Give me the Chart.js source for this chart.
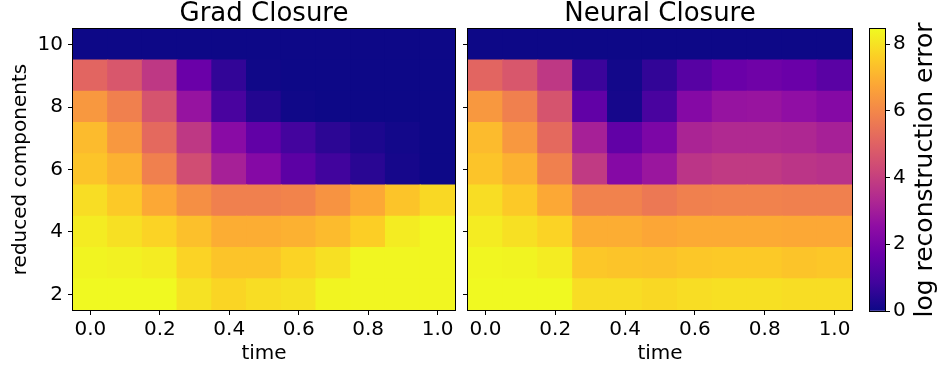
<!DOCTYPE html>
<html>
<head>
<meta charset="utf-8">
<script src="https://cdn.jsdelivr.net/npm/chart.js@4.4.1/dist/chart.umd.min.js"></script>
<style>
  body { margin: 0; background: #fff; }
  #wrap { position: relative; width: 938px; height: 371px; }
  #wrap canvas { position: absolute; top: 0; }
</style>
</head>
<body>
<div id="wrap">
  <canvas id="grad-chart" width="462" height="371" style="left:0"></canvas>
  <canvas id="neural-chart" width="395" height="371" style="left:462px"></canvas>
  <canvas id="cbar-chart" width="76" height="371" style="left:862px"></canvas>
</div>
<script>
// time axis (columns) and reduced components (rows, bottom to top)
const times = ['0.0', '0.1', '0.2', '0.3', '0.4', '0.5', '0.6', '0.7', '0.8', '0.9', '1.0'];
const components = [2, 3, 4, 5, 6, 7, 8, 9, 10];
const componentTicks = [2, 4, 6, 8, 10];
const errorTicks = [0, 2, 4, 6, 8];
const errorMin = 0;
const errorMax = 8.45;

// log reconstruction error, one row per component count (2 .. 10)
const gradErr2  = [8.45, 8.45, 8.45, 8.0, 7.75, 7.9, 8.0, 8.35, 8.4, 8.4, 8.4];
const gradErr3  = [8.35, 8.3, 8.2, 7.7, 7.4, 7.4, 7.7, 7.95, 8.4, 8.4, 8.4];
const gradErr4  = [8.2, 7.95, 7.7, 7.3, 6.9, 6.9, 7.0, 7.2, 7.6, 8.2, 8.4];
const gradErr5  = [7.9, 7.5, 6.8, 6.2, 5.8, 5.8, 5.9, 6.3, 6.8, 7.4, 7.8];
const gradErr6  = [7.4, 7.0, 5.8, 4.4, 3.1, 2.3, 1.4, 0.85, 0.45, 0.15, 0.0];
const gradErr7  = [7.2, 6.4, 5.2, 3.8, 2.4, 1.5, 0.9, 0.5, 0.25, 0.1, 0.0];
const gradErr8  = [6.4, 5.8, 4.6, 2.7, 1.0, 0.35, 0.05, 0.0, 0.0, 0.0, 0.0];
const gradErr9  = [5.1, 4.7, 3.8, 1.7, 0.6, 0.05, 0.0, 0.0, 0.0, 0.0, 0.0];
const gradErr10 = [0, 0, 0, 0, 0, 0, 0, 0, 0, 0, 0];

const neuralErr2  = [8.45, 8.45, 8.45, 7.9, 7.9, 7.8, 7.9, 7.95, 7.95, 7.9, 7.9];
const neuralErr3  = [8.4, 8.35, 8.2, 7.45, 7.4, 7.35, 7.45, 7.5, 7.5, 7.4, 7.45];
const neuralErr4  = [8.2, 7.95, 7.7, 6.9, 6.9, 6.75, 6.85, 6.85, 6.85, 6.8, 6.8];
const neuralErr5  = [7.9, 7.5, 6.8, 5.85, 5.85, 5.6, 5.8, 5.85, 5.85, 5.8, 5.8];
const neuralErr6  = [7.4, 7.0, 5.8, 3.85, 2.3, 2.8, 3.7, 3.85, 3.85, 3.7, 3.6];
const neuralErr7  = [7.2, 6.4, 5.2, 3.1, 1.5, 2.1, 3.2, 3.35, 3.35, 3.3, 3.1];
const neuralErr8  = [6.4, 5.8, 4.6, 1.5, 0.15, 1.0, 2.3, 2.7, 2.75, 2.55, 2.3];
const neuralErr9  = [5.1, 4.7, 3.8, 0.75, 0.1, 0.6, 1.3, 1.7, 1.8, 1.7, 1.35];
const neuralErr10 = [0, 0, 0, 0, 0, 0, 0, 0, 0, 0, 0];

const gradRows = [gradErr2, gradErr3, gradErr4, gradErr5, gradErr6, gradErr7, gradErr8, gradErr9, gradErr10];
const neuralRows = [neuralErr2, neuralErr3, neuralErr4, neuralErr5, neuralErr6, neuralErr7, neuralErr8, neuralErr9, neuralErr10];

// matplotlib "plasma" colour stops
const plasmaStops = ['#0d0887', '#41049d', '#6a00a8', '#8f0da4', '#b12a90', '#cc4778',
                     '#e16462', '#f2844b', '#fca636', '#fcce25', '#f0f921'];

function hexToRgb(h) {
    return [parseInt(h.slice(1, 3), 16), parseInt(h.slice(3, 5), 16), parseInt(h.slice(5, 7), 16)];
}

function plasma(v) {
    let t = (v - errorMin) / (errorMax - errorMin);
    t = Math.max(0, Math.min(1, t));
    const pos = t * (plasmaStops.length - 1);
    const i = Math.min(Math.floor(pos), plasmaStops.length - 2);
    const f = pos - i;
    const a = hexToRgb(plasmaStops[i]);
    const b = hexToRgb(plasmaStops[i + 1]);
    const c = a.map((x, k) => Math.round(x + (b[k] - x) * f));
    return `rgb(${c[0]}, ${c[1]}, ${c[2]})`;
}

Chart.defaults.font.family = "'DejaVu Sans', sans-serif";
Chart.defaults.color = '#000';

// black frame around the plot area (matplotlib spines)
const framePlugin = {
    id: 'frame',
    afterDatasetsDraw(chart) {
        const a = chart.chartArea;
        const ctx = chart.ctx;
        ctx.save();
        ctx.strokeStyle = '#000';
        ctx.lineWidth = 1;
        ctx.strokeRect(Math.round(a.left) - 0.5, Math.round(a.top) - 0.5,
                       Math.round(a.right - a.left) + 1, Math.round(a.bottom - a.top) + 1);
        ctx.restore();
    }
};

/**
 * Heatmap drawn as floating bars: one dataset per component row
 */
function makeHeatmap(id, title, rows, showYLabels, yWidth, padRight) {
    const ctx = document.getElementById(id).getContext('2d');
    const datasets = rows.map((row, i) => ({
        data: times.map(() => [components[i] - 0.5, components[i] + 0.5]),
        backgroundColor: row.map(plasma),
        borderWidth: 0,
        inflateAmount: 0.6,   // overlap neighbours so no white seams show
        grouped: false,
        barPercentage: 1,
        categoryPercentage: 1
    }));

    return new Chart(ctx, {
        type: 'bar',
        data: { labels: times, datasets: datasets },
        options: {
            responsive: false,
            animation: false,
            layout: { padding: { top: 0, right: padRight, bottom: 0, left: 0 } },
            plugins: {
                legend: { display: false },
                tooltip: { enabled: false },
                title: {
                    display: true,
                    text: title,
                    fullSize: false,
                    font: { size: 26, weight: 'normal', lineHeight: '29px' },
                    padding: 0,
                    color: '#000'
                }
            },
            scales: {
                x: {
                    offset: true,
                    grid: {
                        offset: false,
                        drawOnChartArea: false,
                        tickLength: 5,
                        tickColor: c => (c.index % 2 ? 'rgba(0,0,0,0)' : '#000')
                    },
                    border: { display: false },
                    ticks: {
                        autoSkip: false,
                        maxRotation: 0,
                        padding: 3,
                        font: { size: 20 },
                        callback: (v, i) => (i % 2 ? '' : times[i])
                    },
                    title: {
                        display: true,
                        text: 'time',
                        font: { size: 20 },
                        padding: { top: 0, bottom: 5 }
                    },
                    afterFit: s => { s.height = 61; }
                },
                y: {
                    min: 1.5,
                    max: 10.5,
                    grid: { drawOnChartArea: false, tickLength: 5, tickColor: '#000' },
                    border: { display: false },
                    afterBuildTicks: s => { s.ticks = componentTicks.map(v => ({ value: v })); },
                    ticks: { display: showYLabels, padding: 5, font: { size: 20 } },
                    title: {
                        display: showYLabels,
                        text: 'reduced components',
                        font: { size: 20 },
                        padding: { top: 9, bottom: 0 }
                    },
                    afterFit: s => { s.width = yWidth; }
                }
            }
        },
        plugins: [framePlugin]
    });
}

/**
 * Colour bar: one floating bar filled with the plasma gradient
 */
function makeColorbar() {
    const ctx = document.getElementById('cbar-chart').getContext('2d');
    const labelPlugin = {
        id: 'cbarLabel',
        afterDraw(chart) {
            const a = chart.chartArea;
            const c = chart.ctx;
            c.save();
            c.translate(63, (a.top + a.bottom) / 2);
            c.rotate(-Math.PI / 2);
            c.textAlign = 'center';
            c.textBaseline = 'middle';
            c.fillStyle = '#000';
            c.font = "25px 'DejaVu Sans', sans-serif";
            c.fillText('log reconstruction error', 0, 0);
            c.restore();
        }
    };

    return new Chart(ctx, {
        type: 'bar',
        data: {
            labels: [''],
            datasets: [{
                data: [[errorMin, errorMax]],
                barPercentage: 1,
                categoryPercentage: 1,
                borderWidth: 0,
                backgroundColor: c => {
                    const a = c.chart.chartArea;
                    if (!a) return plasmaStops[0];
                    const g = c.chart.ctx.createLinearGradient(0, a.bottom, 0, a.top);
                    plasmaStops.forEach((col, i) => g.addColorStop(i / (plasmaStops.length - 1), col));
                    return g;
                }
            }]
        },
        options: {
            responsive: false,
            animation: false,
            layout: { padding: { top: 29, right: 0, bottom: 60, left: 8 } },
            plugins: { legend: { display: false }, tooltip: { enabled: false } },
            scales: {
                x: { display: false },
                y: {
                    position: 'right',
                    min: errorMin,
                    max: errorMax,
                    grid: { drawOnChartArea: false, tickLength: 5, tickColor: '#000' },
                    border: { display: false },
                    afterBuildTicks: s => { s.ticks = errorTicks.map(v => ({ value: v })); },
                    ticks: { padding: 3, font: { size: 20 } },
                    afterFit: s => { s.width = 53; }
                }
            }
        },
        plugins: [framePlugin, labelPlugin]
    });
}

makeHeatmap('grad-chart', 'Grad Closure', gradRows, true, 73, 7);
makeHeatmap('neural-chart', 'Neural Closure', neuralRows, false, 6, 5);
makeColorbar();
</script>
</body>
</html>
